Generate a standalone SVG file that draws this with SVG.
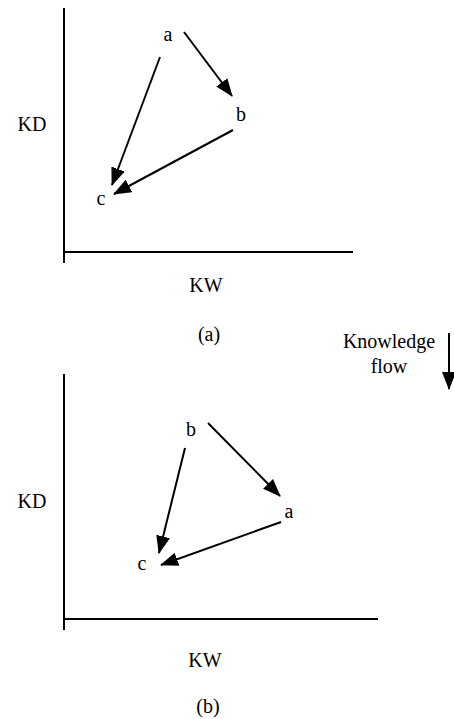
<svg xmlns="http://www.w3.org/2000/svg" width="454" height="719" viewBox="0 0 454 719">
<style>
text{font-family:'Liberation Serif','Times New Roman',Times,'DejaVu Serif',serif;font-size:20px;fill:#000}
.ax{stroke:#000;stroke-width:2;fill:none}
.ar{stroke:#000;stroke-width:2;fill:none;marker-end:url(#ah)}
</style>
<defs>
<marker id="ah" markerUnits="userSpaceOnUse" markerWidth="20" markerHeight="16" refX="17" refY="7" orient="auto">
<path d="M0,0 L18,7 L0,14 z" fill="#000"/>
</marker>
</defs>
<rect width="454" height="719" fill="#fff"/>
<g id="panel-a-axes">
<line class="ax" x1="64" y1="8" x2="64" y2="263"/>
<line class="ax" x1="63" y1="252" x2="353" y2="252"/>
<text x="32" y="131" text-anchor="middle" font-family="Liberation Serif, serif">KD</text>
<text x="206" y="292" text-anchor="middle" font-family="Liberation Serif, serif">KW</text>
<text x="209" y="341" text-anchor="middle" font-family="Liberation Serif, serif">(a)</text>
</g>
<g id="a1"><text x="168" y="41" text-anchor="middle" font-family="Liberation Serif, serif">a</text></g>
<g id="b1"><text x="241" y="121" text-anchor="middle" font-family="Liberation Serif, serif">b</text></g>
<g id="c1"><text x="101" y="205" text-anchor="middle" font-family="Liberation Serif, serif">c</text></g>
<g id="panel-b-axes">
<line class="ax" x1="64" y1="374" x2="64" y2="630"/>
<line class="ax" x1="63" y1="619" x2="378" y2="619"/>
<text x="32" y="508" text-anchor="middle" font-family="Liberation Serif, serif">KD</text>
<text x="205" y="667" text-anchor="middle" font-family="Liberation Serif, serif">KW</text>
<text x="208" y="713" text-anchor="middle" font-family="Liberation Serif, serif">(b)</text>
</g>
<g id="b2"><text x="191" y="436" text-anchor="middle" font-family="Liberation Serif, serif">b</text></g>
<g id="a2"><text x="289" y="518" text-anchor="middle" font-family="Liberation Serif, serif">a</text></g>
<g id="c2"><text x="142" y="570" text-anchor="middle" font-family="Liberation Serif, serif">c</text></g>
<g id="legend">
<text x="389" y="348" text-anchor="middle" font-family="Liberation Serif, serif">Knowledge</text>
<text x="389" y="373" text-anchor="middle" font-family="Liberation Serif, serif">flow</text>
</g>
<g id="connectors">
<line class="ar" x1="184" y1="32" x2="232" y2="96"/>
<line class="ar" x1="160" y1="57" x2="112" y2="185"/>
<line class="ar" x1="233" y1="130" x2="114" y2="194"/>
<line class="ar" x1="208" y1="423" x2="280" y2="496"/>
<line class="ar" x1="281" y1="522" x2="161" y2="565"/>
<line class="ar" x1="185" y1="448" x2="159" y2="553"/>
<line class="ar" x1="449" y1="333" x2="449" y2="389"/>
</g>
</svg>
